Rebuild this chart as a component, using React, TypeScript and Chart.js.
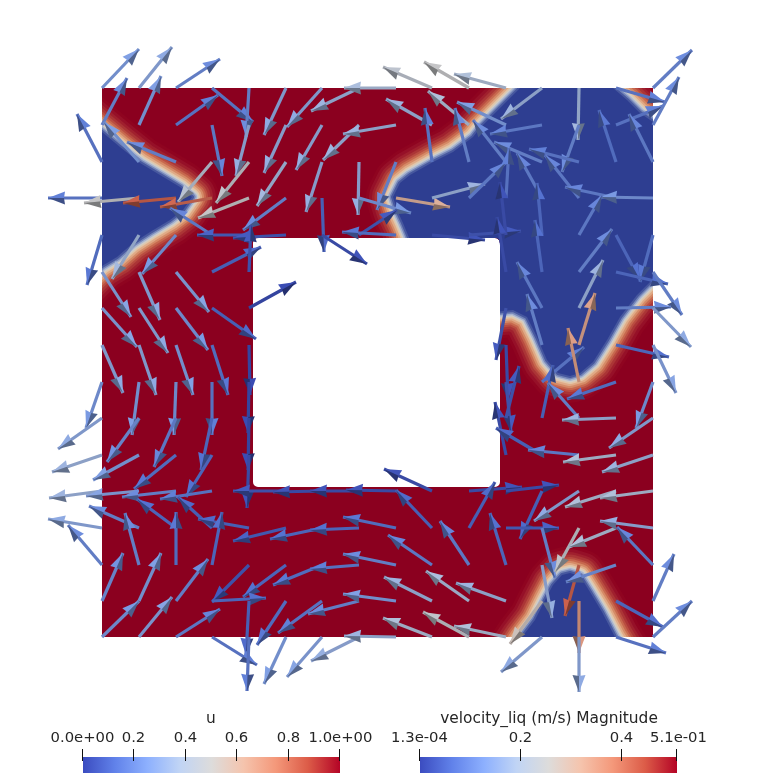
import React, { useEffect, useRef } from "react";
import { Chart, registerables } from "chart.js";

// ---------- data: axis units span the 779 x 784 view of the domain ----------
const gridX = [102, 139, 176, 212, 249, 286, 322, 359, 396, 432, 469, 506, 542, 579, 616, 653];
const gridY = [88, 125, 162, 198, 235, 272, 308, 345, 382, 418, 455, 491, 528, 565, 601, 637];
const ringCols = [0, 1, 2, 3, 4, 11, 12, 13, 14, 15];
const allCols = gridX.map((_, i) => i);

const tips0 = [[139,49],[172,47],[220,59],[253,122],[246,137],[264,135],[287,127],[311,111],[344,88],[383,67],[424,62],[454,74],[501,119],[578,140],[665,102],[692,50]];
const tips1 = [[127,78],[161,76],[218,95],[222,176],[236,176],[264,173],[296,170],[323,160],[343,134],[386,99],[428,91],[457,102],[490,134],[562,172],[663,106],[679,77]];
const tips2 = [[77,114],[104,122],[127,142],[178,202],[216,203],[257,206],[306,212],[358,215],[377,210],[425,108],[455,108],[473,120],[494,142],[529,149],[599,110],[629,114]];
const tips3 = [[48,198],[84,203],[123,203],[160,207],[198,218],[243,230],[324,252],[411,213],[450,207],[485,184],[506,162],[509,148],[517,153],[545,155],[565,187],[600,197]];
const tips4 = [[87,285],[112,279],[142,274],[170,208],[197,235],[233,238],[367,264],[397,210],[342,232],[485,240],[521,231],[500,182],[537,183],[602,195],[640,280],[640,282]];
const tips5 = [[131,317],[160,320],[209,312],[261,247],[251,225],[497,217],[535,220],[612,229],[668,284],[682,315]];
const tips6 = [[137,347],[168,353],[208,350],[256,339],[296,282],[496,360],[517,262],[603,260],[671,307],[691,347]];
const tips7 = [[123,393],[156,395],[193,395],[228,395],[250,395],[508,400],[527,294],[595,293],[669,357],[676,393]];
const tips8 = [[86,428],[132,435],[174,435],[212,435],[248,433],[511,432],[584,347],[568,328],[567,399],[636,428]];
const tips9 = [[58,449],[107,462],[154,467],[201,470],[248,470],[519,366],[553,365],[548,383],[562,420],[609,448]];
const tips10 = [[52,472],[93,480],[134,489],[186,497],[247,508],[495,402],[496,428],[528,450],[563,462],[602,472]];
const tips11 = [[49,498],[86,496],[122,497],[160,499],[245,491],[233,491],[273,492],[310,491],[346,490],[384,469],[522,487],[559,485],[520,539],[534,521],[565,507],[600,498]];
const tips12 = [[48,519],[89,506],[137,499],[178,497],[198,519],[233,541],[270,539],[310,530],[343,517],[396,490],[495,482],[559,528],[555,578],[555,572],[569,547],[600,521]];
const tips13 = [[68,525],[125,513],[176,512],[222,512],[212,602],[243,597],[273,585],[310,569],[343,554],[388,535],[440,521],[490,513],[552,618],[565,616],[566,582],[617,527]];
const tips14 = [[123,553],[161,553],[208,559],[266,598],[246,655],[257,645],[278,633],[308,614],[343,594],[384,577],[426,571],[456,583],[510,644],[579,653],[663,627],[674,554]];
const tips15 = [[139,601],[172,597],[220,609],[257,665],[247,691],[264,684],[287,677],[311,661],[344,636],[383,618],[423,612],[454,626],[501,672],[579,692],[666,653],[692,601]];

const speed0 = [.13,.15,.1,.08,.1,.15,.15,.17,.19,.23,.25,.2,.17,.18,.08,.1];
const speed1 = [.1,.13,.08,.09,.16,.16,.16,.17,.17,.17,.2,.13,.09,.1,.08,.1];
const speed2 = [.08,.13,.1,.22,.24,.18,.16,.16,.1,.08,.1,.1,.1,.08,.07,.09];
const speed3 = [.08,.25,.43,.42,.25,.1,.05,.12,.32,.17,.09,.08,.09,.09,.09,.12];
const speed4 = [.07,.18,.12,.09,.04,.03,.02,.03,.07,.02,.03,.02,.06,.09,.06,.07];
const speed5 = [.14,.15,.14,.05,.03,.02,.06,.1,.06,.1];
const speed6 = [.14,.15,.12,.05,.01,.03,.09,.17,.1,.15];
const speed7 = [.15,.15,.13,.07,.01,.02,.1,.34,.06,.14];
const speed8 = [.12,.13,.12,.08,.01,.03,.08,.35,.07,.12];
const speed9 = [.15,.11,.09,.06,.01,.03,.05,.1,.17,.15];
const speed10 = [.17,.13,.07,.06,.02,.02,.05,.09,.2,.17];
const speed11 = [.17,.14,.1,.08,.02,.03,.02,.02,.02,.02,.02,.02,.05,.15,.2,.2];
const speed12 = [.15,.1,.06,.05,.05,.04,.06,.06,.07,.05,.05,.04,.1,.24,.2,.16];
const speed13 = [.1,.1,.07,.06,.03,.06,.07,.08,.1,.09,.09,.06,.16,.43,.11,.09];
const speed14 = [.11,.13,.1,.06,.05,.07,.08,.1,.13,.17,.19,.17,.27,.36,.06,.1];
const speed15 = [.12,.14,.09,.08,.08,.13,.14,.16,.17,.2,.24,.2,.15,.15,.08,.1];

const tipRows = [tips0,tips1,tips2,tips3,tips4,tips5,tips6,tips7,tips8,tips9,tips10,tips11,tips12,tips13,tips14,tips15];
const speedRows = [speed0,speed1,speed2,speed3,speed4,speed5,speed6,speed7,speed8,speed9,speed10,speed11,speed12,speed13,speed14,speed15];

// blue (u = 0) regions of the phase field: edges
const regionLeft = [[80,114],[102,132],[120,147],[140,163],[160,175],[180,187],[192,197],[183,210],[170,220],[150,232],[133,243],[117,257],[102,266],[80,288]];
const regionRight = [[545,62],[520,88],[503,105],[480,128],[473,137],[453,152],[433,162],[410,175],[400,183],[393,197],[397,210],[403,223],[410,240],[410,262],[495,262],[495,312],[513,310],[527,317],[537,337],[547,360],[558,373],[570,376],[580,373],[593,362],[607,340],[620,317],[637,295],[650,282],[672,262],[672,135],[653,122],[640,113],[627,100],[613,88],[595,62]];
const regionBottom = [[510,655],[522,637],[535,620],[545,600],[553,585],[562,575],[570,573],[580,576],[590,592],[602,612],[615,637],[626,655]];
const regions = [regionLeft, regionRight, regionBottom];
const frame = { x0: 102, x1: 653, y0: 88, y1: 637 };
const hole = { x0: 253, x1: 500, y0: 238, y1: 487, r: 5 };

// transition band, outermost first: distance from the blue edge and colour
const bandDist = [27, 24, 21, 18.5, 16, 14, 12, 10, 8, 6.5, 5, 3.5, 2];
const bandCol = ["#8f0420","#961028","#a0202e","#ab3536","#b94c40","#c7684e","#d58a66","#e0aa86","#e2c6a8","#cfcdc8","#a6b3d0","#7485b8","#47589f"];
const fieldRed = "#8b001f";
const fieldBlue = "#2e3e91";

// colour bars
const uTicks = [0, 0.2, 0.4, 0.6, 0.8, 1];
const uLabels = ["0.0e+00", "0.2", "0.4", "0.6", "0.8", "1.0e+00"];
const velMin = 0.00013;
const velMax = 0.51;
const velTicks = [velMin, 0.2, 0.4, velMax];
const velLabels = ["1.3e-04", "0.2", "0.4", "5.1e-01"];
const coolWarm: number[][] = [[59,76,192],[97,130,234],[141,176,254],[192,212,245],[221,220,219],[245,196,173],[244,152,122],[220,92,72],[180,4,38]];

const lookup = (t: number) => {
  const p = Math.max(0, Math.min(0.9999, t)) * (coolWarm.length - 1);
  const k = Math.floor(p);
  const f = p - k;
  return coolWarm[k].map((c, n) => c + (coolWarm[k + 1][n] - c) * f);
};
const shade = (rgb: number[], m: number) =>
  `rgb(${rgb.map((c) => Math.round(Math.min(255, c * m))).join(",")})`;

const fieldClip = {
  id: "fieldClip",
  beforeDatasetDraw(chart: any, args: any) {
    if (!chart.data.datasets[args.index].isField) return;
    const { ctx, scales } = chart;
    const X = (v: number) => scales.x.getPixelForValue(v);
    const Y = (v: number) => scales.y.getPixelForValue(v);
    ctx.save();
    ctx.beginPath();
    ctx.rect(X(frame.x0), Y(frame.y0), X(frame.x1) - X(frame.x0), Y(frame.y1) - Y(frame.y0));
    ctx.roundRect(X(hole.x0), Y(hole.y0), X(hole.x1) - X(hole.x0), Y(hole.y1) - Y(hole.y0), hole.r);
    ctx.clip("evenodd");
  },
  afterDatasetDraw(chart: any, args: any) {
    const ds = chart.data.datasets[args.index];
    const { ctx, scales } = chart;
    if (ds.isField) {
      ctx.restore();
      return;
    }
    if (!ds.headRgb) return;
    const a = ds.data[0];
    const b = ds.data[1];
    const x0 = scales.x.getPixelForValue(a.x);
    const y0 = scales.y.getPixelForValue(a.y);
    const x1 = scales.x.getPixelForValue(b.x);
    const y1 = scales.y.getPixelForValue(b.y);
    const len = Math.hypot(x1 - x0, y1 - y0) || 1;
    const ux = (x1 - x0) / len;
    const uy = (y1 - y0) / len;
    const hl = Math.min(17, len);
    const hw = 6.5;
    const bx = x1 - ux * hl;
    const by = y1 - uy * hl;
    let nx = -uy;
    let ny = ux;
    if (ny < 0) { nx = -nx; ny = -ny; }
    // upper half of the cone catches the light, lower half is in shade
    ctx.save();
    ctx.fillStyle = shade(ds.headRgb, 0.9);
    ctx.beginPath();
    ctx.moveTo(x1, y1);
    ctx.lineTo(bx - nx * hw, by - ny * hw);
    ctx.lineTo(bx + ux * 1, by + uy * 1);
    ctx.closePath();
    ctx.fill();
    ctx.fillStyle = shade(ds.headRgb, 0.56);
    ctx.beginPath();
    ctx.moveTo(x1, y1);
    ctx.lineTo(bx + nx * hw, by + ny * hw);
    ctx.lineTo(bx + ux * 1, by + uy * 1);
    ctx.closePath();
    ctx.fill();
    ctx.restore();
  },
};

const colorBars = {
  id: "colorBars",
  afterDraw(chart: any) {
    const { ctx, scales } = chart;
    const X = (v: number) => scales.x.getPixelForValue(v);
    const Y = (v: number) => scales.y.getPixelForValue(v);
    const bar = (x0: number, x1: number, ticks: number[], labels: string[], title: string, titleX: number, lo: number, hi: number, lastNudge: number) => {
      const g = ctx.createLinearGradient(X(x0), 0, X(x1), 0);
      coolWarm.forEach((c, i) => g.addColorStop(i / (coolWarm.length - 1), `rgb(${c.join(",")})`));
      ctx.fillStyle = g;
      ctx.fillRect(X(x0), Y(757), X(x1) - X(x0), Y(773) - Y(757));
      ctx.strokeStyle = "#111";
      ctx.lineWidth = 1;
      ctx.fillStyle = "#262626";
      ctx.textAlign = "center";
      ctx.textBaseline = "alphabetic";
      ctx.font = '14.8px "DejaVu Sans"';
      ticks.forEach((t, i) => {
        const px = Math.round(X(x0 + ((t - lo) / (hi - lo)) * (x1 - x0))) - 0.5;
        ctx.beginPath();
        ctx.moveTo(px, Y(749));
        ctx.lineTo(px, Y(761));
        ctx.stroke();
        ctx.fillText(labels[i], px + (i === ticks.length - 1 ? lastNudge : 0), Y(742));
      });
      ctx.font = '15.4px "DejaVu Sans"';
      ctx.fillText(title, X(titleX), Y(723));
    };
    bar(83, 340, uTicks, uLabels, "u", 211, 0, 1, 1);
    bar(420, 677, velTicks, velLabels, "velocity_liq (m/s) Magnitude", 549, velMin, velMax, 2);
  },
};

Chart.register(fieldClip, colorBars);
Chart.register(...registerables);

export default function App() {
  const ref = useRef<HTMLCanvasElement>(null);
  useEffect(() => {
    const toPts = (r: number[][]) => r.map(([x, y]) => ({ x, y }));
    const base = {
      showLine: true,
      pointRadius: 0,
      pointHoverRadius: 0,
      tension: 0,
    };
    const datasets: any[] = [];
    let order = 100000;
    // solid field
    const rect = [[frame.x0, frame.y0],[frame.x1, frame.y0],[frame.x1, frame.y1],[frame.x0, frame.y1]];
    datasets.push({ ...base, data: toPts(rect), isField: true, fill: "shape", backgroundColor: fieldRed, borderWidth: 0, order: order-- });
    bandDist.forEach((d, k) => {
      regions.forEach((r) => {
        datasets.push({
          ...base,
          data: toPts([...r, r[0]]),
          isField: true,
          fill: false,
          borderColor: bandCol[k],
          borderWidth: d * 2,
          borderJoinStyle: "round",
          order: order--,
        });
      });
    });
    regions.forEach((r) => {
      datasets.push({ ...base, data: toPts(r), isField: true, fill: "shape", backgroundColor: fieldBlue, borderWidth: 0, order: order-- });
    });
    // arrows
    tipRows.forEach((row, j) => {
      const cols = row.length === 16 ? allCols : ringCols;
      row.forEach((tip, n) => {
        const rgb = lookup(speedRows[j][n] / velMax);
        datasets.push({
          ...base,
          data: [{ x: gridX[cols[n]], y: gridY[j] }, { x: tip[0], y: tip[1] }],
          fill: false,
          borderColor: shade(rgb, 0.8),
          borderWidth: 3.2,
          borderCapStyle: "butt",
          headRgb: rgb,
          order: order--,
        });
      });
    });
    const chart = new Chart(ref.current!, {
      type: "scatter",
      data: { datasets },
      options: {
        animation: false,
        responsive: false,
        devicePixelRatio: 1,
        layout: { padding: 0 },
        events: [],
        plugins: { legend: { display: false }, tooltip: { enabled: false } },
        scales: {
          x: { type: "linear", min: 0, max: 779, display: false },
          y: { type: "linear", min: 0, max: 784, reverse: true, display: false },
        },
      },
    } as any);
    return () => chart.destroy();
  }, []);
  return (
    <div style={{ position: "absolute", left: 0, top: 0, width: 779, height: 784, background: "#fff" }}>
      <canvas ref={ref} width={779} height={784} style={{ display: "block" }} />
    </div>
  );
}
